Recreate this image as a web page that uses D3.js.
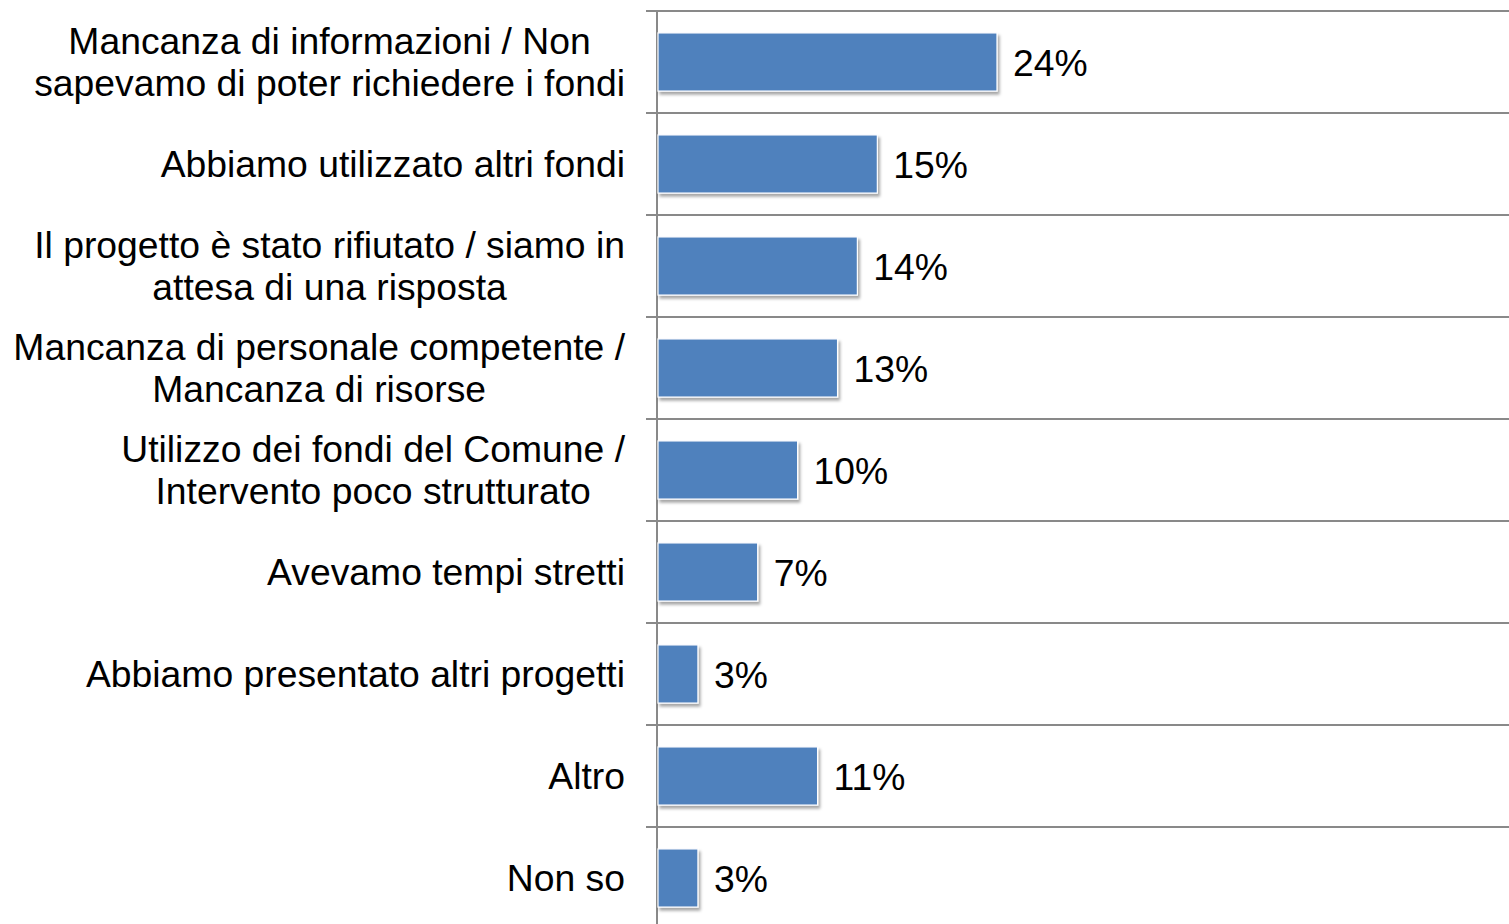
<!DOCTYPE html>
<html>
<head>
<meta charset="utf-8">
<script src="https://cdn.jsdelivr.net/npm/d3@7"></script>
<style>
  html, body { margin: 0; padding: 0; background: #fff; }
  svg { display: block; font-family: "Liberation Sans", Arial, sans-serif; }
</style>
</head>
<body>
<div class="chart"></div>
<script>
// categories, one array of lines each (as wrapped in the original)
const categories = [
    ["Mancanza di informazioni / Non", "sapevamo di poter richiedere i fondi"],
    ["Abbiamo utilizzato altri fondi"],
    ["Il progetto è stato rifiutato / siamo in", "attesa di una risposta"],
    ["Mancanza di personale competente /", "Mancanza di risorse"],
    ["Utilizzo dei fondi del Comune /", "Intervento poco strutturato"],
    ["Avevamo tempi stretti"],
    ["Abbiamo presentato altri progetti"],
    ["Altro"],
    ["Non so"]
];
// percentages
const values = [23.94, 15.49, 14.08, 12.68, 9.86, 7.04, 2.82, 11.27, 2.82];

const width = 1509, height = 924;
const axisX = 657;
const fontSize = 37.3;

const svg = d3.select('.chart').append('svg')
    .attr('width', width)
    .attr('height', height);

// defs: soft drop shadow under the bars
const defs = svg.append('defs');
const filter = defs.append('filter')
    .attr('id', 'shadow')
    .attr('x', '-10%').attr('y', '-20%')
    .attr('width', '130%').attr('height', '160%');
filter.append('feDropShadow')
    .attr('dx', 2).attr('dy', 3)
    .attr('stdDeviation', 1.8)
    .attr('flood-color', '#000')
    .attr('flood-opacity', 0.35);

const idx = categories.map((d, i) => i);

const yScale = d3.scaleBand()
    .domain(idx)
    .range([11, 929])
    .paddingInner(0.43)
    .paddingOuter(0.215);

const xScale = d3.scaleLinear()
    .domain([0, 60])
    .range([axisX + 1, axisX + 1 + 849.6]);

const step = yScale.step();

// horizontal gridlines at category boundaries (plus small ticks left of axis)
const bounds = d3.range(categories.length + 1).map(i => yScale.range()[0] + i * step);
svg.append('g')
    .attr('class', 'grid')
    .selectAll('line')
    .data(bounds)
    .enter().append('line')
    .attr('x1', axisX - 11)
    .attr('x2', width)
    .attr('y1', d => d)
    .attr('y2', d => d)
    .attr('stroke', '#898989')
    .attr('stroke-width', 2);

// vertical axis line
svg.append('line')
    .attr('x1', axisX).attr('x2', axisX)
    .attr('y1', bounds[0] - 1).attr('y2', height)
    .attr('stroke', '#898989')
    .attr('stroke-width', 2);

// bars
svg.append('g')
    .selectAll('rect')
    .data(values)
    .enter().append('rect')
    .attr('x', xScale(0))
    .attr('y', (d, i) => yScale(i))
    .attr('width', d => xScale(d) - xScale(0))
    .attr('height', yScale.bandwidth())
    .attr('fill', '#4F81BD')
    .attr('stroke', '#fff')
    .attr('stroke-width', 1.2)
    .attr('filter', 'url(#shadow)');

// value labels
const fmt = d3.format('.0f');
svg.append('g')
    .selectAll('text')
    .data(values)
    .enter().append('text')
    .attr('x', d => xScale(d) + 16)
    .attr('y', (d, i) => yScale(i) + yScale.bandwidth() / 2 + 1)
    .attr('dy', '0.35em')
    .attr('font-size', fontSize)
    .attr('fill', '#000')
    .text(d => fmt(d) + '%');

// category labels: block right-aligned, lines centred within the block
const labelRight = 625;
const lineH = 42;
const labels = svg.append('g')
    .selectAll('g')
    .data(categories)
    .enter().append('g');

labels.each(function(lines, i) {
    const g = d3.select(this);
    const cy = yScale(i) + yScale.bandwidth() / 2;
    const texts = g.selectAll('text')
        .data(lines)
        .enter().append('text')
        .attr('font-size', fontSize)
        .attr('fill', '#000')
        .attr('text-anchor', 'middle')
        .attr('dy', '0.35em')
        .attr('y', (l, j) => cy + (j - (lines.length - 1) / 2) * lineH)
        .text(l => l);
    let maxW = 0;
    texts.each(function() { maxW = Math.max(maxW, this.getComputedTextLength()); });
    texts.attr('x', labelRight - maxW / 2);
});
</script>
</body>
</html>
